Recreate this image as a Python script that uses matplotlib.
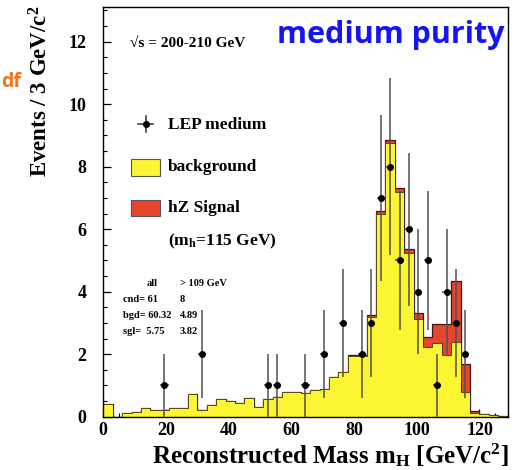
import numpy as np
import matplotlib
matplotlib.use("Agg")
import matplotlib.pyplot as plt
from matplotlib.lines import Line2D
from matplotlib.patches import Rectangle
from matplotlib.ticker import MultipleLocator

plt.rcParams['font.family'] = 'serif'
plt.rcParams['font.serif'] = ['Liberation Serif', 'DejaVu Serif']
plt.rcParams['font.weight'] = 'bold'
plt.rcParams['mathtext.fontset'] = 'custom'
plt.rcParams['mathtext.rm'] = 'Liberation Serif:bold'
plt.rcParams['mathtext.it'] = 'Liberation Serif:bold'
plt.rcParams['mathtext.bf'] = 'Liberation Serif:bold'

# 3 GeV bins, 0 - 129 GeV
edges = np.arange(0, 130, 3)
background = [0.42, 0.0, 0.12, 0.16, 0.27, 0.23, 0.23, 0.27, 0.27, 0.73,
              0.23, 0.39, 0.57, 0.49, 0.44, 0.61, 0.30, 0.56, 0.62, 0.80,
              0.78, 0.76, 0.84, 0.89, 1.27, 1.43, 1.94, 1.94, 3.20, 6.50,
              8.75, 7.20, 5.23, 3.12, 2.24, 2.35, 1.97, 2.40, 0.78, 0.11,
              0.08, 0.05, 0.03]
signal = [0.0] * 26 + [0.03, 0.03, 0.06, 0.09, 0.10, 0.11, 0.13, 0.21,
                       0.32, 0.61, 0.99, 1.95, 0.91, 0.07, 0.0, 0.0, 0.0]

# selected candidates (bin centre, count)
data_mass = [19.5, 31.5, 52.5, 55.5, 64.5, 70.5, 76.5, 82.5, 85.5, 88.5,
             91.5, 94.5, 97.5, 100.5, 103.5, 106.5, 109.5, 112.5, 115.5]
data_count = [1, 2, 1, 1, 1, 2, 3, 2, 3, 7, 8, 5, 6, 4, 5, 1, 4, 3, 2]

bkg = np.array(background)
tot = bkg + np.array(signal)

W, H = 518, 470
fig = plt.figure(figsize=(W / 100, H / 100), dpi=100)
ax = fig.add_axes([103.3 / W, 1 - 416.7 / H, 405 / W, 410 / H])

yellow = '#fbf534'
red = '#e8452e'
ax.stairs(tot, edges, fill=True, color=red, zorder=1)
ax.stairs(tot, edges, color='#3a1a10', linewidth=0.9, zorder=2)
ax.stairs(bkg, edges, fill=True, color=yellow, zorder=2)
ax.stairs(bkg, edges, color='#3a2a10', linewidth=0.6, zorder=2)

n = np.array(data_count)
ax.errorbar(data_mass, n, yerr=np.sqrt(n), xerr=1.3, fmt='o', ms=4,
            color='black', ecolor='#505050', elinewidth=1.1, capsize=0, zorder=3)

ax.set_xlim(0, 129.2)
ax.set_ylim(0, 13.12)
ax.xaxis.set_major_locator(MultipleLocator(20))
ax.xaxis.set_minor_locator(MultipleLocator(5))
ax.yaxis.set_major_locator(MultipleLocator(2))
ax.yaxis.set_minor_locator(MultipleLocator(0.5))
ax.tick_params(which='both', direction='in', top=False, right=False, labelsize=13)
ax.tick_params(which='major', length=6, width=0.9)
ax.tick_params(which='minor', length=3, width=0.8)
ax.tick_params(axis='y', pad=12)
ax.tick_params(axis='x', pad=4)
for s in ax.spines.values():
    s.set_linewidth(1.0)


def px(x, y):
    return x / W, 1 - y / H


fig.text(*px(509, 463), r'Reconstructed Mass m$_\mathregular{H}$ [GeV/c$^\mathregular{2}$]',
         ha='right', va='baseline', fontsize=18)
fig.text(*px(41, 6), r'Events / 3 GeV/c$^\mathregular{2}$', rotation=90,
         ha='center', va='top', fontsize=16.5)

fig.text(*px(130, 47), '√s = 200-210 GeV', ha='left', va='baseline', fontsize=11)
fig.text(*px(277, 43), 'medium purity', ha='left', va='baseline', fontsize=22,
         color='#1414f5', family='Open Sans', weight='bold')
fig.text(*px(1, 87), 'df', ha='left', va='baseline', fontsize=14,
         color='#f4731c', family='Open Sans', weight='bold')

# legend
fig.add_artist(Line2D([138 / W, 153 / W], [1 - 124 / H] * 2, color='#303030', lw=1.1))
fig.add_artist(Line2D([145.5 / W] * 2, [1 - 116 / H, 1 - 132 / H], color='#303030', lw=1.1))
fig.add_artist(Line2D([145.5 / W], [1 - 124 / H], marker='o', ms=4, color='black'))
fig.text(*px(168, 129), 'LEP medium', ha='left', va='baseline', fontsize=12.5)

fig.add_artist(Rectangle(px(131, 176), 29 / W, 17 / H, facecolor=yellow,
                         edgecolor='#555555', lw=0.8))
fig.text(*px(168, 171), 'background', ha='left', va='baseline', fontsize=12.5)
fig.add_artist(Rectangle(px(131, 216), 29 / W, 16 / H, facecolor=red,
                         edgecolor='#555555', lw=0.8))
fig.text(*px(168, 212), 'hZ Signal', ha='left', va='baseline', fontsize=12.5)
fig.text(*px(168, 245), r'(m$_\mathregular{h}$=115 GeV)', ha='left', va='baseline',
         fontsize=12.5)

# event counts
rows = [('', 'all', '> 109 GeV'), ('cnd=', '61', '8'),
        ('bgd=', '60.32', '4.89'), ('sgl=', ' 5.75', '3.82')]
for i, (lab, a, b) in enumerate(rows):
    y = 286 + 16 * i
    if lab:
        fig.text(*px(123, y), lab + ' ' + a, ha='left', va='baseline', fontsize=7.5)
    else:
        fig.text(*px(147, y), a, ha='left', va='baseline', fontsize=7.5)
    fig.text(*px(180, y), b, ha='left', va='baseline', fontsize=7.5)

fig.savefig('out.png', dpi=100)
